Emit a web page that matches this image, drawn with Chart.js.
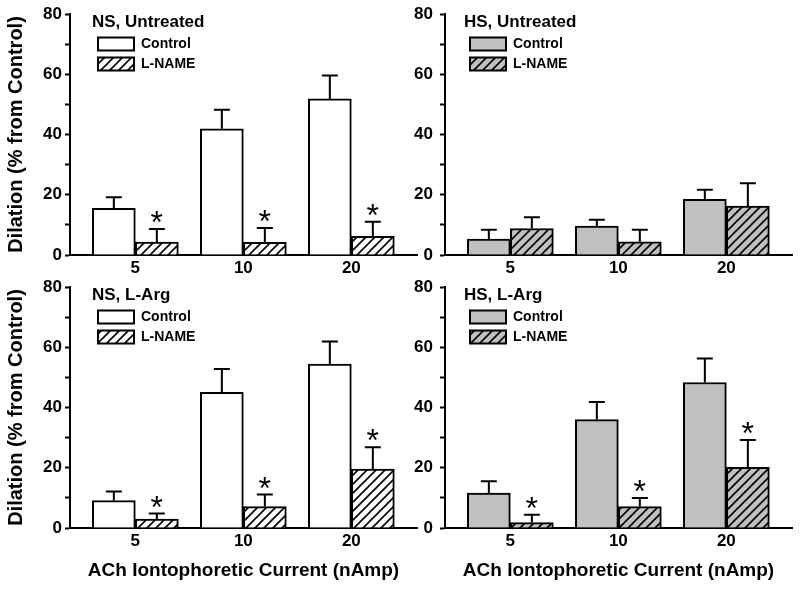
<!DOCTYPE html>
<html><head><meta charset="utf-8">
<script src="https://cdn.jsdelivr.net/npm/chart.js@4.4.1/dist/chart.umd.min.js"></script>
<style>
html,body{margin:0;padding:0;background:#fff;}
#wrap{position:relative;width:800px;height:589px;overflow:hidden;background:#fff;}
.panel{position:absolute;}
.panel canvas{display:block;}
</style></head><body>
<div id="wrap">
  <div class="panel" style="left:0px;top:270px"><canvas id="c3" width="420" height="319"></canvas></div>
  <div class="panel" style="left:400px;top:270px"><canvas id="c4" width="400" height="319"></canvas></div>
  <div class="panel" style="left:0px;top:0px"><canvas id="c1" width="420" height="290"></canvas></div>
  <div class="panel" style="left:400px;top:0px"><canvas id="c2" width="400" height="290"></canvas></div>
</div>
<script>
// ---- data ----
const categories = ['5', '10', '20'];
const seriesNames = ['Control', 'L-NAME'];
const yTitle = 'Dilation (% from Control)';
const xTitle = 'ACh Iontophoretic Current (nAmp)';

// NS, Untreated
const nsUntreatedControl    = [15.5, 41.9, 51.8];
const nsUntreatedControlErr = [3.7, 6.3, 7.8];
const nsUntreatedLname      = [4.3, 4.2, 6.2];
const nsUntreatedLnameErr   = [4.3, 4.8, 4.8];
const nsUntreatedSig        = [true, true, true];

// HS, Untreated
const hsUntreatedControl    = [5.3, 9.6, 18.5];
const hsUntreatedControlErr = [3.1, 2.1, 3.2];
const hsUntreatedLname      = [8.8, 4.4, 16.2];
const hsUntreatedLnameErr   = [3.7, 4.0, 7.6];
const hsUntreatedSig        = [false, false, false];

// NS, L-Arg
const nsLArgControl    = [9.1, 45.0, 54.4];
const nsLArgControlErr = [3.0, 7.8, 7.5];
const nsLArgLname      = [3.0, 7.1, 19.6];
const nsLArgLnameErr   = [1.8, 4.0, 7.2];
const nsLArgSig        = [true, true, true];

// HS, L-Arg
const hsLArgControl    = [11.6, 36.0, 48.3];
const hsLArgControlErr = [3.9, 5.8, 8.0];
const hsLArgLname      = [1.8, 7.1, 20.1];
const hsLArgLnameErr   = [2.6, 2.9, 9.1];
const hsLArgSig        = [true, true, true];

const yTickValues = [0, 20, 40, 60, 80];

// ---- layout / style ----
const X_MAX = 347 / 108;
const GROUP_OFFSET = 0.605;
const GRAY = '#c0c0c0';

Chart.defaults.font.family = "'Liberation Sans', Arial, sans-serif";
Chart.defaults.color = '#000';

function hatchPattern(ctx, bg) {
  const s = 9;
  const c = document.createElement('canvas');
  c.width = s; c.height = s;
  const g = c.getContext('2d');
  g.fillStyle = bg; g.fillRect(0, 0, s, s);
  g.strokeStyle = '#000'; g.lineWidth = 1.6;
  g.beginPath();
  g.moveTo(-1, s + 1); g.lineTo(s + 1, -1);
  g.moveTo(-2, 2); g.lineTo(2, -2);
  g.moveTo(s - 2, s + 2); g.lineTo(s + 2, s - 2);
  g.stroke();
  return ctx.createPattern(c, 'repeat');
}

const errorBarPlugin = {
  id: 'errorBars',
  afterDatasetsDraw(chart) {
    const ctx = chart.ctx;
    const ys = chart.scales.y;
    chart.data.datasets.forEach((ds, di) => {
      const meta = chart.getDatasetMeta(di);
      meta.data.forEach((bar, i) => {
        const v = ds.data[i].y;
        const e = ds.errors[i];
        const yTop = ys.getPixelForValue(v + e);
        ctx.save();
        ctx.strokeStyle = '#000';
        ctx.lineWidth = 2;
        ctx.beginPath();
        ctx.moveTo(bar.x, bar.y);
        ctx.lineTo(bar.x, yTop);
        ctx.moveTo(bar.x - 8, yTop);
        ctx.lineTo(bar.x + 8, yTop);
        ctx.stroke();
        if (ds.sig && ds.sig[i]) {
          ctx.font = "normal 32px 'Liberation Sans', Arial, sans-serif";
          ctx.fillStyle = '#000';
          ctx.textAlign = 'center';
          ctx.textBaseline = 'alphabetic';
          const m = ctx.measureText('*');
          const mid = (m.actualBoundingBoxAscent - m.actualBoundingBoxDescent) / 2;
          ctx.fillText('*', bar.x, yTop - 12 + mid);
        }
        ctx.restore();
      });
    });
  }
};

function makePanel(cfg) {
  const canvas = document.getElementById(cfg.id);
  const ctx = canvas.getContext('2d');
  const toPts = arr => categories.map((c, i) => ({ x: i + GROUP_OFFSET, y: arr[i] }));
  const noSig = categories.map(() => false);
  const placeLegend = {
    id: 'placeLegend',
    afterLayout(chart) {
      chart.legend.left = chart.chartArea.left + cfg.legendDx;
      chart.legend.top = chart.chartArea.top + cfg.legendDy;
    }
  };
  const chart = new Chart(canvas, {
    type: 'bar',
    data: {
      datasets: [
        { label: seriesNames[0], data: toPts(cfg.control), errors: cfg.controlErr, sig: noSig,
          backgroundColor: cfg.fill, borderColor: '#000', borderWidth: 2, barThickness: 43 },
        { label: seriesNames[1], data: toPts(cfg.lname), errors: cfg.lnameErr, sig: cfg.sig,
          backgroundColor: hatchPattern(ctx, cfg.fill), borderColor: '#000', borderWidth: 2, barThickness: 43 }
      ]
    },
    options: {
      responsive: false,
      animation: false,
      events: [],
      layout: { padding: { left: 0, right: cfg.padRight, top: cfg.areaTop, bottom: 0 } },
      plugins: {
        tooltip: { enabled: false },
        legend: {
          position: 'chartArea',
          align: 'start',
          title: { display: true, text: cfg.title, position: 'start', color: '#000',
                   font: { size: 17, weight: 'bold', lineHeight: 1 }, padding: 0 },
          labels: { boxWidth: 36, boxHeight: 13, padding: 6, color: '#000',
                    font: { size: 14, weight: 'bold' } }
        }
      },
      scales: {
        x: {
          type: 'linear', min: 0, max: X_MAX, offset: false,
          afterBuildTicks: s => { s.ticks = categories.map((c, i) => ({ value: i + GROUP_OFFSET })); },
          afterFit: s => { s.height = cfg.xHeight; },
          ticks: { callback: (v, i) => categories[i], autoSkip: false, maxRotation: 0, padding: 3,
                   color: '#000', font: { size: 17, weight: 'bold' } },
          grid: { display: true, drawOnChartArea: false, drawTicks: false, offset: false },
          border: { display: true, color: '#000', width: 2 },
          title: { display: cfg.showX, text: xTitle, color: '#000',
                   font: { size: 19, weight: 'bold' }, padding: { top: 0, bottom: 7 } }
        },
        y: {
          min: 0, max: 80,
          afterFit: s => { s.width = cfg.yWidth; },
          ticks: { stepSize: 10, padding: cfg.yTickPad, color: '#000',
                   callback: v => yTickValues.includes(v) ? String(v) : '',
                   font: { size: 17, weight: 'bold', lineHeight: 0.8 } },
          grid: { drawOnChartArea: false, drawTicks: true, tickLength: 5, tickColor: '#000', tickWidth: 2 },
          border: { display: true, color: '#000', width: 2 },
          title: { display: cfg.showY, text: yTitle, color: '#000',
                   font: { size: 20, weight: 'bold' }, padding: { top: 4, bottom: 0 } }
        }
      }
    },
    plugins: [errorBarPlugin, placeLegend]
  });
  // pin the plot area top to the wanted position
  for (let k = 0; k < 3; k++) {
    const d = cfg.areaTop - chart.chartArea.top;
    if (Math.abs(d) < 0.5) break;
    chart.options.layout.padding.top += d;
    chart.update();
  }
  return chart;
}

makePanel({ id: 'c1', title: 'NS, Untreated', fill: '#ffffff',
  control: nsUntreatedControl, controlErr: nsUntreatedControlErr,
  lname: nsUntreatedLname, lnameErr: nsUntreatedLnameErr, sig: nsUntreatedSig,
  yWidth: 70, xHeight: 35, areaTop: 14, padRight: 3, showY: true, showX: false, yTickPad: 3,
  legendDx: 22, legendDy: 0 });
makePanel({ id: 'c2', title: 'HS, Untreated', fill: GRAY,
  control: hsUntreatedControl, controlErr: hsUntreatedControlErr,
  lname: hsUntreatedLname, lnameErr: hsUntreatedLnameErr, sig: hsUntreatedSig,
  yWidth: 45, xHeight: 35, areaTop: 14, padRight: 8, showY: false, showX: false, yTickPad: 7,
  legendDx: 19, legendDy: 0 });
makePanel({ id: 'c3', title: 'NS, L-Arg', fill: '#ffffff',
  control: nsLArgControl, controlErr: nsLArgControlErr,
  lname: nsLArgLname, lnameErr: nsLArgLnameErr, sig: nsLArgSig,
  yWidth: 70, xHeight: 61, areaTop: 17, padRight: 3, showY: true, showX: true, yTickPad: 3,
  legendDx: 22, legendDy: 0 });
makePanel({ id: 'c4', title: 'HS, L-Arg', fill: GRAY,
  control: hsLArgControl, controlErr: hsLArgControlErr,
  lname: hsLArgLname, lnameErr: hsLArgLnameErr, sig: hsLArgSig,
  yWidth: 45, xHeight: 61, areaTop: 17, padRight: 8, showY: false, showX: true, yTickPad: 7,
  legendDx: 19, legendDy: 0 });
</script>
</body></html>
